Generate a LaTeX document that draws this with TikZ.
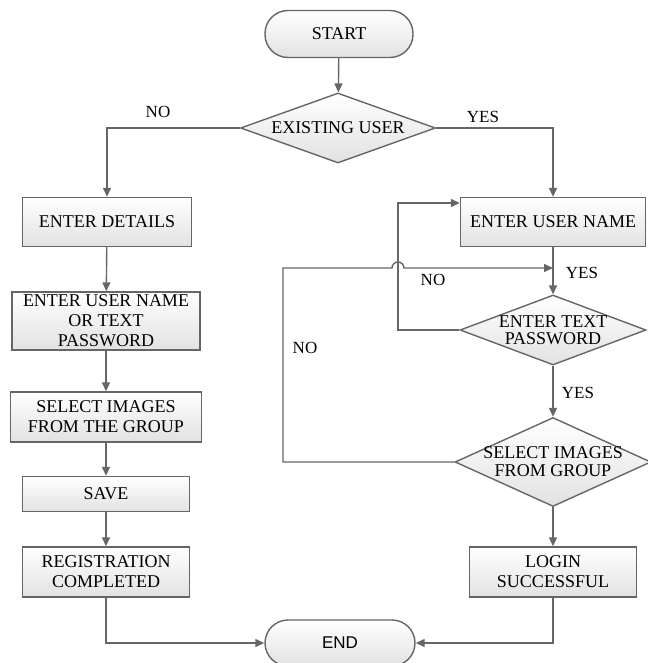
\documentclass[tikz,border=0pt]{standalone}
\usepackage{fontspec}
\setmainfont{Liberation Serif}
\newfontfamily\arialfont{Liberation Sans}
\usetikzlibrary{shapes.geometric,arrows.meta}
\definecolor{linegray}{HTML}{666666}
\definecolor{fillgray}{HTML}{E2E2E2}
\begin{document}
\begin{tikzpicture}[x=1pt,y=-1pt,
  every node/.style={font=\fontsize{18}{20}\selectfont},
  process/.style={draw=linegray, line width=1.4pt, top color=white, bottom color=fillgray, align=center, inner sep=0pt},
  terminal/.style={process, rounded corners=23pt},
  decision/.style={diamond, draw=linegray, line width=1.4pt, top color=white, bottom color=fillgray, inner sep=0pt},
  flow/.style={draw=linegray, line width=1.4pt, -{Triangle[length=9pt,width=8pt]}},
  answer/.style={font=\fontsize{17}{19}\selectfont}]
\useasboundingbox (0,0) rectangle (647,663);
%START
  \node at (339,34) [terminal, minimum width=148, minimum height=47] (start) {START};
  \node at (338,128) [decision, minimum width=195, minimum height=70, label=center:{EXISTING USER}] (exist) {};
  \draw[flow] (start) -- (exist);
%REGISTRATION
  \node at (107,222) [process, minimum width=169, minimum height=49] (details) {ENTER DETAILS};
  \node at (106,321) [process, minimum width=188, minimum height=58] (entuser) {ENTER USER NAME\\OR TEXT\\PASSWORD};
  \node at (106,417) [process, minimum width=191, minimum height=50] (selthe) {SELECT IMAGES\\FROM THE GROUP};
  \node at (106,494) [process, minimum width=167, minimum height=35] (save) {SAVE};
  \node at (106,572) [process, minimum width=167, minimum height=50] (regdone) {REGISTRATION\\COMPLETED};
  \draw[flow] (exist.west) -| (details.north);
  \node at (158,112) [answer] (noreg) {NO};
  \draw[flow] (details) -- (entuser);
  \draw[flow] (entuser) -- (selthe);
  \draw[flow] (selthe) -- (save);
  \draw[flow] (save) -- (regdone);
%LOGIN
  \node at (553,222) [process, minimum width=185, minimum height=49] (uname) {ENTER USER NAME};
  \node at (553,330) [decision, minimum width=186, minimum height=70, label={[align=center]center:ENTER TEXT\\[-3pt]PASSWORD}] (tpass) {};
  \node at (553,462) [decision, minimum width=196, minimum height=89, label={[align=center]center:SELECT IMAGES\\[-2pt]FROM GROUP}] (selgrp) {};
  \node at (553,572) [process, minimum width=167, minimum height=50] (login) {LOGIN\\SUCCESSFUL};
  \draw[flow] (exist.east) -| (uname.north);
  \node at (483,117) [answer] (yeslog) {YES};
  \draw[flow] (uname) -- (tpass);
  \node at (582,273) [answer] (yesname) {YES};
  \draw[flow] (tpass) -- (selgrp);
  \node at (578,393) [answer] (yespass) {YES};
  \draw[flow] (selgrp) -- (login);
  % back loops
  \coordinate (loopA) at (398,203);
  \coordinate (loopB) at (283,268);
  \coordinate (hop) at (398,268);
  \draw[flow] (tpass.west) -| (loopA) -- (loopA -| uname.west);
  \node at (433,280) [answer] (nopass) {NO};
  \draw[flow] (selgrp.west) -| (loopB) -- ([xshift=-6pt]hop) arc[start angle=180, end angle=360, radius=6] -- (loopB -| uname.south);
  \node at (305,348) [answer] (noimg) {NO};
%END
  \node at (340,643) [terminal, minimum width=150, minimum height=46, font=\arialfont\fontsize{17}{19}\selectfont] (endn) {END};
  \draw[flow] (regdone.south) |- (endn.west);
  \draw[flow] (login.south) |- (endn.east);
\end{tikzpicture}
\end{document}
